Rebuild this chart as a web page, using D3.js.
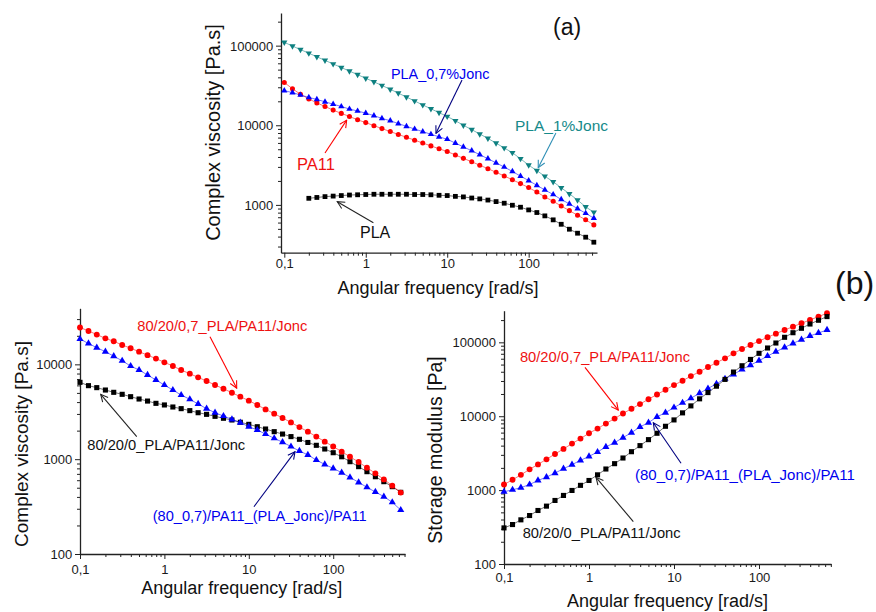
<!DOCTYPE html>
<html><head><meta charset="utf-8">
<script src="https://cdn.jsdelivr.net/npm/d3@7"></script>
<style>
body{margin:0;background:#fff;}
svg{display:block;font-family:"Liberation Sans",Arial,Helvetica,sans-serif;}
</style></head><body>
<svg id="c" width="876" height="612"></svg>
<script>
// ---------- data ----------
const freq = [0.1,0.126,0.158,0.2,0.251,0.316,0.398,0.501,0.631,0.794,
              1,1.26,1.58,2,2.51,3.16,3.98,5.01,6.31,7.94,
              10,12.6,15.8,20,25.1,31.6,39.8,50.1,63.1,79.4,
              100,126,158,200,251,316,398,501,631];

const xTickValues = [0.1,1,10,100];
const xTickLabels = ["0,1","1","10","100"];
const aYTickValues = [1000,10000,100000];
const aYTickLabels = ["1000","10000","100000"];
const bLeftYTickValues = [100,1000,10000];
const bLeftYTickLabels = ["100","1000","10000"];
const bRightYTickValues = [100,1000,10000,100000];
const bRightYTickLabels = ["100","1000","10000","100000"];

// (a) complex viscosity of neat materials
const aPLA = [null,null,null,1210,1240,1270,1290,1310,1330,1340,1350,1360,1360,1360,1360,1360,1350,1350,1340,1320,1310,1280,1260,1220,1190,1150,1100,1050,990,935,865,802,728,649,571,495,441,393,340];
const aPA11 = [34400,28800,24500,21400,19100,17200,15500,14100,12900,11700,10800,9890,9080,8340,7670,7060,6500,5980,5510,5070,4680,4240,3840,3480,3150,2850,2570,2310,2070,1850,1650,1450,1260,1110,968,847,741,649,561];
const aPLA07 = [27200,25700,24000,22400,21100,19700,18400,17200,16000,15100,14200,13200,12200,11400,10500,9700,8970,8320,7710,7160,6670,5970,5350,4790,4270,3800,3370,2990,2630,2300,2020,1760,1540,1350,1170,1030,899,785,681];
const aPLA1 = [110000,98900,89100,80400,72400,65300,58900,53100,47900,43200,38900,35100,31600,28300,25300,22600,20200,18000,16100,14400,12900,11400,10000,8810,7760,6840,5960,5190,4520,3800,3160,2690,2290,1950,1640,1380,1150,944,809];

// (b) left: complex viscosity of blends
const bViscJ0 = [6460,5960,5680,5360,5070,4830,4560,4310,4100,3880,3730,3550,3410,3250,3090,2970,2830,2700,2590,2450,2330,2200,2080,1950,1840,1730,1620,1500,1400,1280,1170,1060,941,834,738,653,579,513,447];
const bViscJ07 = [24500,22500,20600,18800,17500,16000,14800,13600,12500,11500,10500,9600,8710,7970,7290,6670,6050,5530,5020,4560,4140,3730,3350,3020,2720,2440,2180,1950,1730,1530,1360,1200,1060,933,813,709,612,526,444];
const bVisc8007 = [18500,16600,15000,13600,12200,10900,9600,8710,7730,6840,6050,5360,4750,4280,3820,3410,3090,2850,2630,2430,2200,2030,1840,1660,1510,1360,1220,1110,979,881,800,721,643,570,505,451,403,351,291];

// (b) right: storage modulus of blends
const bModJ0 = [308,342,396,453,530,607,724,847,989,1160,1350,1610,1930,2280,2720,3310,4000,4820,5880,7310,8910,11100,13800,17200,20900,25500,31500,39600,48200,58700,71000,83800,97900,117000,135000,155000,177000,199000,223000];
const bModJ07 = [1190,1380,1610,1910,2230,2610,3080,3610,4260,4980,5880,6800,7950,9290,10900,12600,14600,17000,19700,22800,26400,30200,34900,40000,46300,53000,60700,71000,81300,92000,104000,117000,131000,147000,163000,181000,201000,223000,248000];
const bMod8007 = [949,1010,1080,1190,1350,1500,1700,1950,2210,2530,2860,3280,3840,4390,5130,6000,7160,8200,9790,11200,13100,15200,17500,20500,23700,27500,32100,36800,43000,49200,56400,65200,74600,85500,96800,109000,122000,134000,147000];

// ---------- styles ----------
const RED = "#ff0000", BLUE = "#0000ff", TEAL = "#0e8080", BLACK = "#000000", NAVY = "#000080", TEALARROW = "#2f8fb5";

const panels = [
  {
    xDom:[0.0911,690], xRange:[281,597], yDom:[251,257000], yRange:[252.7,13],
    yTicks:aYTickValues, yLabels:aYTickLabels, xLabelDy:15, yLabelGap:7.7,
    xTitle:{x:438,y:294.3,size:18}, yTitle:{text:"Complex viscosity [Pa.s]",x:220,y:132.5,size:20},
    sym:{square:23,circle:20,triangle:17},
    series:[
      {v:aPLA, c:BLACK, s:"square"},
      {v:aPA11, c:RED, s:"circle"},
      {v:aPLA07, c:BLUE, s:"triangle"},
      {v:aPLA1, c:TEAL, s:"tridown"}
    ],
    notes:[
      {t:"PLA_0,7%Jonc", x:2.04, y:38100, c:"#0000ee", size:14.4},
      {t:"PLA_1%Jonc", x:67.9, y:8460, c:"#168a8a", size:15.5},
      {t:"PA11", x:0.143, y:2740, c:"#ee1111", size:16.5},
      {t:"PLA", x:0.85, y:384, c:"#111", size:16}
    ],
    arrows:[
      {f:[15.2,37000], to:[7.28,7920], c:NAVY},
      {f:[216,7990], to:[131,2930], c:TEALARROW},
      {f:[0.316,4480], to:[0.583,11600], c:RED},
      {f:[1.24,597], to:[0.447,1096], c:"#222"}
    ]
  },
  {
    xDom:[0.1,709], xRange:[80,405], yDom:[100,39000], yRange:[554,308.3],
    yTicks:bLeftYTickValues, yLabels:bLeftYTickLabels, xLabelDy:19.5, yLabelGap:7.7,
    xTitle:{x:241.7,y:594,size:18}, yTitle:{text:"Complex viscosity [Pa.s]",x:27.5,y:444,size:19},
    sym:{square:26,circle:27,triangle:22},
    series:[
      {v:bViscJ0, c:BLACK, s:"square"},
      {v:bViscJ07, c:RED, s:"circle"},
      {v:bVisc8007, c:BLUE, s:"triangle"}
    ],
    notes:[
      {t:"80/20/0,7_PLA/PA11/Jonc", x:0.477, y:22500, c:"#ee1111", size:14.7},
      {t:"80/20/0_PLA/PA11/Jonc", x:0.122, y:1250, c:"#111", size:14.7},
      {t:"(80_0,7)/PA11_(PLA_Jonc)/PA11", x:0.727, y:223, c:"#0000ee", size:14.6}
    ],
    arrows:[
      {f:[3.47,19600], to:[7.19,5590], c:RED},
      {f:[0.47,1730], to:[0.176,4830], c:"#222"},
      {f:[11.5,315], to:[35.3,1200], c:NAVY}
    ]
  },
  {
    xDom:[0.1,703], xRange:[504,831], yDom:[100,268000], yRange:[564,310.7],
    yTicks:bRightYTickValues, yLabels:bRightYTickLabels, xLabelDy:18, yLabelGap:8,
    xTitle:{x:667.5,y:607,size:18}, yTitle:{text:"Storage modulus [Pa]",x:442,y:450,size:19.5},
    sym:{square:26,circle:27,triangle:22},
    series:[
      {v:bModJ07, c:RED, s:"circle"},
      {v:bMod8007, c:BLUE, s:"triangle"},
      {v:bModJ0, c:BLACK, s:"square"}
    ],
    notes:[
      {t:"80/20/0,7_PLA/PA11/Jonc", x:0.154, y:54200, c:"#ee1111", size:14.7},
      {t:"(80_0,7)/PA11_(PLA_Jonc)/PA11", x:3.48, y:1370, c:"#0000ee", size:15},
      {t:"80/20/0_PLA/PA11/Jonc", x:0.166, y:225, c:"#111", size:14.7}
    ],
    arrows:[
      {f:[0.897,45900], to:[2.21,12100], c:RED},
      {f:[12.1,2310], to:[5.71,8170], c:NAVY},
      {f:[3.32,374], to:[1.21,1490], c:"#222"}
    ]
  }
];

const svg = d3.select("#c");
svg.append("rect").attr("width",876).attr("height",612).attr("fill","#fff");
const defs = svg.append("defs");
const arrowIds = {};
function arrowMarker(color){
  if (arrowIds[color]) return arrowIds[color];
  const id = "ah" + Object.keys(arrowIds).length;
  defs.append("marker").attr("id",id).attr("viewBox","0 0 10 10")
    .attr("refX",9).attr("refY",5).attr("markerWidth",9).attr("markerHeight",9)
    .attr("markerUnits","userSpaceOnUse").attr("orient","auto")
    .append("path").attr("d","M1,1 L9,5 L1,9").attr("fill","none")
    .attr("stroke",color).attr("stroke-width",1.2);
  arrowIds[color] = id;
  return id;
}

function minorTicks(dom){
  const out = [];
  for (let e = Math.floor(Math.log10(dom[0])); e <= Math.ceil(Math.log10(dom[1])); e++){
    for (let m = 2; m <= 9; m++){
      const v = m * Math.pow(10, e);
      if (v >= dom[0] && v <= dom[1]) out.push(v);
    }
  }
  return out;
}

const AX = "#222";

panels.forEach(p => {
  const x = d3.scaleLog().domain(p.xDom).range(p.xRange);
  const y = d3.scaleLog().domain(p.yDom).range(p.yRange);
  const g = svg.append("g");

  const xMinor = g.append("g").attr("transform",`translate(0,${p.yRange[0]})`)
    .call(d3.axisBottom(x).tickValues(minorTicks(p.xDom)).tickFormat("").tickSize(3).tickSizeOuter(0));
  xMinor.select(".domain").remove();
  const xMaj = g.append("g").attr("transform",`translate(0,${p.yRange[0]})`)
    .call(d3.axisBottom(x).tickValues(xTickValues).tickFormat((d,i)=>xTickLabels[i]).tickSize(5).tickSizeOuter(0));
  xMaj.selectAll("text").attr("y",p.xLabelDy).attr("dy",0)
    .attr("font-size",13).attr("fill","#1a1a1a").attr("font-family","Liberation Sans, Arial, sans-serif");

  const yMinor = g.append("g").attr("transform",`translate(${p.xRange[0]},0)`)
    .call(d3.axisLeft(y).tickValues(minorTicks(p.yDom)).tickFormat("").tickSize(3).tickSizeOuter(0));
  yMinor.select(".domain").remove();
  const yMaj = g.append("g").attr("transform",`translate(${p.xRange[0]},0)`)
    .call(d3.axisLeft(y).tickValues(p.yTicks).tickFormat((d,i)=>p.yLabels[i]).tickSize(5).tickSizeOuter(0));
  yMaj.selectAll("text").attr("x",-p.yLabelGap).attr("dy","0.35em")
    .attr("font-size",13).attr("fill","#1a1a1a").attr("font-family","Liberation Sans, Arial, sans-serif");

  g.selectAll(".domain").attr("stroke",AX).attr("stroke-width",1.3);
  g.selectAll(".tick line").attr("stroke",AX).attr("stroke-width",1);

  g.append("text").attr("x",p.xTitle.x).attr("y",p.xTitle.y).attr("text-anchor","middle")
    .attr("font-size",p.xTitle.size).attr("fill","#111").text("Angular frequency [rad/s]");
  g.append("text").attr("transform",`translate(${p.yTitle.x},${p.yTitle.y}) rotate(-90)`)
    .attr("text-anchor","middle").attr("font-size",p.yTitle.size).attr("fill","#111").text(p.yTitle.text);

  const symTypes = {square:d3.symbolSquare, circle:d3.symbolCircle, triangle:d3.symbolTriangle, tridown:d3.symbolTriangle};
  p.series.forEach(s => {
    const pts = freq.map((f,i)=>({f, v:s.v[i]})).filter(d => d.v != null);
    g.append("path").datum(pts)
      .attr("d", d3.line().x(d=>x(d.f)).y(d=>y(d.v)))
      .attr("fill","none").attr("stroke",s.c).attr("stroke-opacity",0.55).attr("stroke-width",1);
    const size = p.sym[s.s === "tridown" ? "triangle" : s.s];
    const sym = d3.symbol().type(symTypes[s.s]).size(size);
    g.append("g").selectAll("path").data(pts).join("path")
      .attr("d", sym)
      .attr("transform", d => `translate(${x(d.f)},${y(d.v)})` + (s.s === "tridown" ? " rotate(180)" : ""))
      .attr("fill", s.c);
  });

  p.arrows.forEach(a => {
    g.append("line").attr("x1",x(a.f[0])).attr("y1",y(a.f[1]))
      .attr("x2",x(a.to[0])).attr("y2",y(a.to[1]))
      .attr("stroke",a.c).attr("stroke-width",1.1)
      .attr("marker-end",`url(#${arrowMarker(a.c)})`);
  });
  p.notes.forEach(n => {
    g.append("text").attr("x",x(n.x)).attr("y",y(n.y)).attr("font-size",n.size)
      .attr("fill",n.c).text(n.t);
  });
});

svg.append("text").attr("x",553).attr("y",35).attr("font-size",23).attr("fill","#111").text("(a)");
svg.append("text").attr("x",835).attr("y",294).attr("font-size",32).attr("fill","#111").text("(b)");
</script>
</body></html>
